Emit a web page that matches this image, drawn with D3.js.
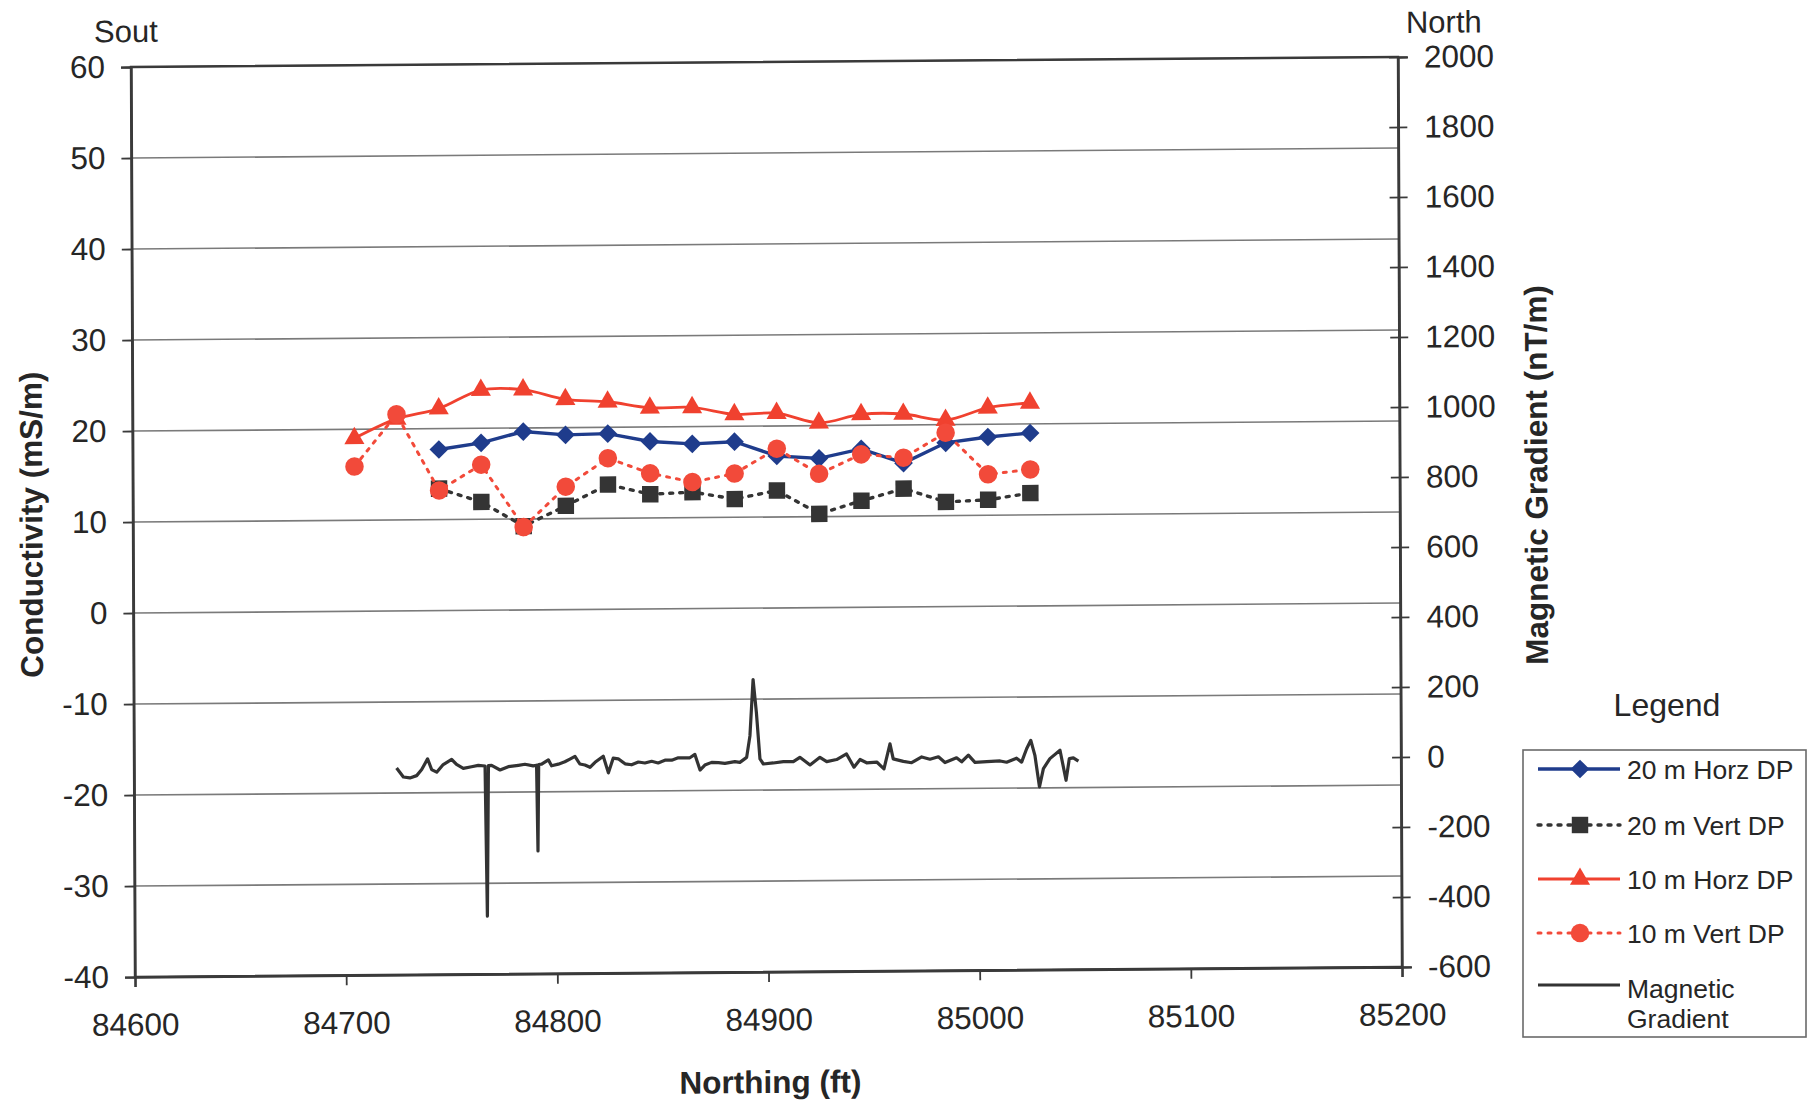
<!DOCTYPE html>
<html>
<head>
<meta charset="utf-8">
<script src="https://cdn.jsdelivr.net/npm/d3@7"></script>
<style>
  body { margin: 0; background: #fff; }
  svg { display: block; }
  text { font-family: "Liberation Sans", Arial, Helvetica, sans-serif; fill: #262626; }
</style>
</head>
<body>
<svg id="chart" width="1810" height="1102"></svg>
<script>
// Survey stations (Northing, ft) of the dipole-dipole conductivity readings
const stations = [84705, 84725, 84745, 84765, 84785, 84805, 84825, 84845, 84865,
                  84885, 84905, 84925, 84945, 84965, 84985, 85005, 85025];

// Conductivity (mS/m) per array configuration; null = no reading
const horz20 = [null, null, 17.7, 18.4, 19.6, 19.2, 19.3, 18.4, 18.1, 18.3, 16.7, 16.4, 17.4, 15.8, 18.0, 18.6, 19.0];
const vert20 = [null, null, 13.4, 11.9, 9.2, 11.4, 13.7, 12.6, 12.8, 12.0, 12.9, 10.3, 11.7, 13.0, 11.5, 11.7, 12.4];
const horz10 = [19.0, 21.1, 22.2, 24.2, 24.2, 23.1, 22.8, 22.1, 22.1, 21.3, 21.4, 20.3, 21.2, 21.2, 20.5, 21.8, 22.3];
const vert10 = [15.9, 21.6, 13.2, 16.0, 9.1, 13.5, 16.6, 14.9, 13.9, 14.8, 17.5, 14.7, 16.8, 16.4, 19.1, 14.5, 15.0];

// Magnetic gradient profile (nT/m) along the same line
const magNorthing = [84724.3, 84727.5, 84730.6, 84733.8, 84736.2, 84739.0, 84740.9, 84743.3, 84746.4, 84750.4,
  84752.7, 84755.9, 84759.8, 84763.0, 84766.2, 84767.0, 84767.8, 84769.3, 84773.3, 84777.2,
  84782.0, 84785.1, 84789.0, 84790.6, 84791.1, 84791.6, 84793.0, 84796.2, 84797.7, 84800.9,
  84804.0, 84806.4, 84808.8, 84811.1, 84813.5, 84815.9, 84818.3, 84822.2, 84824.6, 84826.9,
  84829.3, 84832.5, 84835.6, 84838.8, 84841.9, 84845.1, 84848.2, 84851.4, 84854.6, 84857.7,
  84860.9, 84863.2, 84865.6, 84868.0, 84870.3, 84873.5, 84876.7, 84879.8, 84884.5, 84886.9,
  84890.1, 84891.7, 84893.3, 84894.8, 84896.4, 84898.0, 84902.7, 84907.5, 84912.2, 84915.3,
  84920.1, 84924.8, 84928.0, 84932.7, 84937.4, 84940.9, 84943.8, 84946.9, 84951.7, 84955.1,
  84958.0, 84959.5, 84964.3, 84968.2, 84973.0, 84976.9, 84980.9, 84984.0, 84989.5, 84991.9,
  84995.1, 84998.2, 85003.8, 85010.1, 85013.2, 85017.9, 85020.3, 85022.7, 85024.7, 85026.6,
  85028.7, 85030.6, 85033.7, 85038.5, 85041.3, 85042.9, 85044.8, 85047.2];
const magGradient = [-8.7, -34.6, -37.5, -31, -13.8, 16.6, -14, -21.6, 0, 14.3,
  0, -11.5, -6.9, -3.2, -5, -434, -4, -3.3, -16.8, -7.5,
  -3.8, -1, -5.9, -4, -249, -2, -1.2, 11.1, -6.0, -1.4,
  5.3, 12.9, 20.4, -1.5, -4.4, -11.1, 3.1, 20.2, -27.5, 14.3,
  12.4, -2.0, -4.9, 2.8, 0, 4.7, -0.2, 7.4, 7.3, 13.9,
  13.8, 13.8, 23.3, -21.6, -7.4, 0.2, -0.8, -2.8, 1.9, -0.5,
  13.7, 75, 236, 142, 9, -5.6, -2.9, 0.7, 0.5, 12.7,
  -9.3, 12.3, -0.2, 5.5, 21.3, -16.8, 5, -4.5, -2.6, -22.1,
  49, 6.2, -1.4, -5.3, 11, 4.3, 10.9, -5.6, 7.7, -3.7,
  15.2, -5.7, -4, -2.3, -6.1, 5.3, -6.1, 32, 56, 13,
  -77, -25, 3.3, 27, -59, 3, 5, -4.6];

// Axis ticks
const xTicks = [84600, 84700, 84800, 84900, 85000, 85100, 85200];
const leftTicks = [60, 50, 40, 30, 20, 10, 0, -10, -20, -30, -40];
const rightTicks = [2000, 1800, 1600, 1400, 1200, 1000, 800, 600, 400, 200, 0, -200, -400, -600];

// Series styling / legend entries
const seriesNames = ["20 m Horz DP", "20 m Vert DP", "10 m Horz DP", "10 m Vert DP"];
const seriesColors = ["#1f3c8c", "#343434", "#f0412f", "#f24a3a"];

const W = 1267, H = 910;
const svg = d3.select("#chart");
svg.append("rect").attr("width", 1810).attr("height", 1102).attr("fill", "#fff");

// The whole chart frame sits very slightly tilted on the page
const frame = svg.append("g").attr("transform", "matrix(1,-0.0079,0.0044,1,131,67)");

const x = d3.scaleLinear().domain([84600, 85200]).range([0, W]);
const yL = d3.scaleLinear().domain([-40, 60]).range([H, 0]);
const yR = d3.scaleLinear().domain([-600, 2000]).range([H, 0]);
const plain = d => String(d);   // hyphen-minus for negatives, no grouping

// Horizontal gridlines from the conductivity axis
frame.append("g").selectAll("line").data(leftTicks).join("line")
  .attr("x1", 0).attr("x2", W)
  .attr("y1", d => yL(d)).attr("y2", d => yL(d))
  .attr("stroke", "#7a7a7a").attr("stroke-width", 1.7);

// Plot border
frame.append("rect").attr("x", 0).attr("y", 0).attr("width", W).attr("height", H)
  .attr("fill", "none").attr("stroke", "#3a3a3a").attr("stroke-width", 2.4);

function styleAxis(g) {
  g.select(".domain").attr("stroke", "#3a3a3a").attr("stroke-width", 2.4);
  g.selectAll(".tick line").attr("stroke", "#3a3a3a").attr("stroke-width", 1.8);
  g.selectAll(".tick text").attr("font-size", 31.5).attr("fill", "#262626")
    .attr("font-family", "Liberation Sans, Arial, sans-serif");
}

frame.append("g")
  .call(d3.axisLeft(yL).tickValues(leftTicks).tickSize(10).tickPadding(16).tickFormat(plain))
  .call(styleAxis);

frame.append("g").attr("transform", `translate(0,${H})`)
  .call(d3.axisBottom(x).tickValues(xTicks).tickSize(10).tickPadding(26).tickFormat(plain))
  .call(styleAxis);

const rAxis = frame.append("g").attr("transform", `translate(${W},0)`)
  .call(d3.axisRight(yR).tickValues(rightTicks).tickSize(10).tickPadding(16).tickFormat(plain))
  .call(styleAxis);
rAxis.selectAll(".tick line").attr("x1", -9).attr("x2", 9);

// Axis titles and direction labels
frame.append("text").attr("x", -5).attr("y", -25).attr("text-anchor", "middle")
  .attr("font-size", 31).text("Sout");
frame.append("text").attr("x", W + 46).attr("y", -24).attr("text-anchor", "middle")
  .attr("font-size", 31).text("North");
frame.append("text").attr("transform", `translate(-102,457) rotate(-90)`)
  .attr("text-anchor", "middle").attr("dy", "0.36em")
  .attr("font-size", 31.5).attr("font-weight", "bold").text("Conductivity (mS/m)");
frame.append("text").attr("transform", `translate(${W + 136},419) rotate(-90)`)
  .attr("text-anchor", "middle").attr("dy", "0.36em")
  .attr("font-size", 31.5).attr("font-weight", "bold").text("Magnetic Gradient (nT/m)");
frame.append("text").attr("x", 635).attr("y", 1031).attr("text-anchor", "middle")
  .attr("font-size", 31.5).attr("font-weight", "bold").text("Northing (ft)");

// Magnetic gradient profile (secondary axis)
const magData = magNorthing.map((n, i) => ({ n, v: magGradient[i] }));
frame.append("path").datum(magData)
  .attr("fill", "none").attr("stroke", "#333").attr("stroke-width", 3.2)
  .attr("stroke-linejoin", "round")
  .attr("d", d3.line().x(d => x(d.n)).y(d => yR(d.v)));

// Marker generators
const sym = {
  diamond: d3.symbol().type(d3.symbolSquare).size(175),
  square: d3.symbol().type(d3.symbolSquare).size(270),
  triangle: d3.symbol().type(d3.symbolTriangle).size(175),
  circle: d3.symbol().type(d3.symbolCircle).size(270)
};
const seriesDefs = [
  { name: seriesNames[0], vals: horz20, color: seriesColors[0], dash: null, width: 3.4, marker: "diamond", curve: d3.curveLinear },
  { name: seriesNames[1], vals: vert20, color: seriesColors[1], dash: "3,7", width: 3.4, marker: "square", curve: d3.curveLinear },
  { name: seriesNames[2], vals: horz10, color: seriesColors[2], dash: null, width: 2.8, marker: "triangle", curve: d3.curveCatmullRom.alpha(0.5) },
  { name: seriesNames[3], vals: vert10, color: seriesColors[3], dash: "3,7", width: 3, marker: "circle", curve: d3.curveLinear }
];

function markerTransform(type, px, py) {
  return type === "diamond" ? `translate(${px},${py}) rotate(45)` : `translate(${px},${py})`;
}

seriesDefs.forEach(s => {
  const pts = stations.map((st, i) => ({ st, v: s.vals[i] })).filter(d => d.v !== null);
  frame.append("path").datum(pts)
    .attr("fill", "none").attr("stroke", s.color).attr("stroke-width", s.width)
    .attr("stroke-dasharray", s.dash).attr("stroke-linecap", s.dash ? "round" : "butt")
    .attr("d", d3.line().curve(s.curve).x(d => x(d.st)).y(d => yL(d.v)));
  frame.append("g").selectAll("path").data(pts).join("path")
    .attr("d", sym[s.marker]())
    .attr("transform", d => markerTransform(s.marker, x(d.st), yL(d.v)))
    .attr("fill", s.color);
});

// Legend
svg.append("text").attr("x", 1667).attr("y", 716).attr("text-anchor", "middle")
  .attr("font-size", 32).text("Legend");
const lg = svg.append("g");
lg.append("rect").attr("x", 1523).attr("y", 750).attr("width", 283).attr("height", 287)
  .attr("fill", "#fff").attr("stroke", "#6a6a6a").attr("stroke-width", 1.6);
const rowY = [769, 825, 879, 933];
seriesDefs.forEach((s, i) => {
  lg.append("line").attr("x1", 1538).attr("x2", 1620).attr("y1", rowY[i]).attr("y2", rowY[i])
    .attr("stroke", s.color).attr("stroke-width", s.width)
    .attr("stroke-dasharray", s.dash).attr("stroke-linecap", s.dash ? "round" : "butt");
  lg.append("path").attr("d", sym[s.marker]())
    .attr("transform", markerTransform(s.marker, 1580, rowY[i])).attr("fill", s.color);
  lg.append("text").attr("x", 1627).attr("y", rowY[i]).attr("dy", "0.36em")
    .attr("font-size", 26.5).text(s.name);
});
lg.append("line").attr("x1", 1538).attr("x2", 1620).attr("y1", 985).attr("y2", 985)
  .attr("stroke", "#333").attr("stroke-width", 3.2);
lg.append("text").attr("x", 1627).attr("y", 988).attr("dy", "0.36em").attr("font-size", 26.5).text("Magnetic");
lg.append("text").attr("x", 1627).attr("y", 1018).attr("dy", "0.36em").attr("font-size", 26.5).text("Gradient");
</script>
</body>
</html>
